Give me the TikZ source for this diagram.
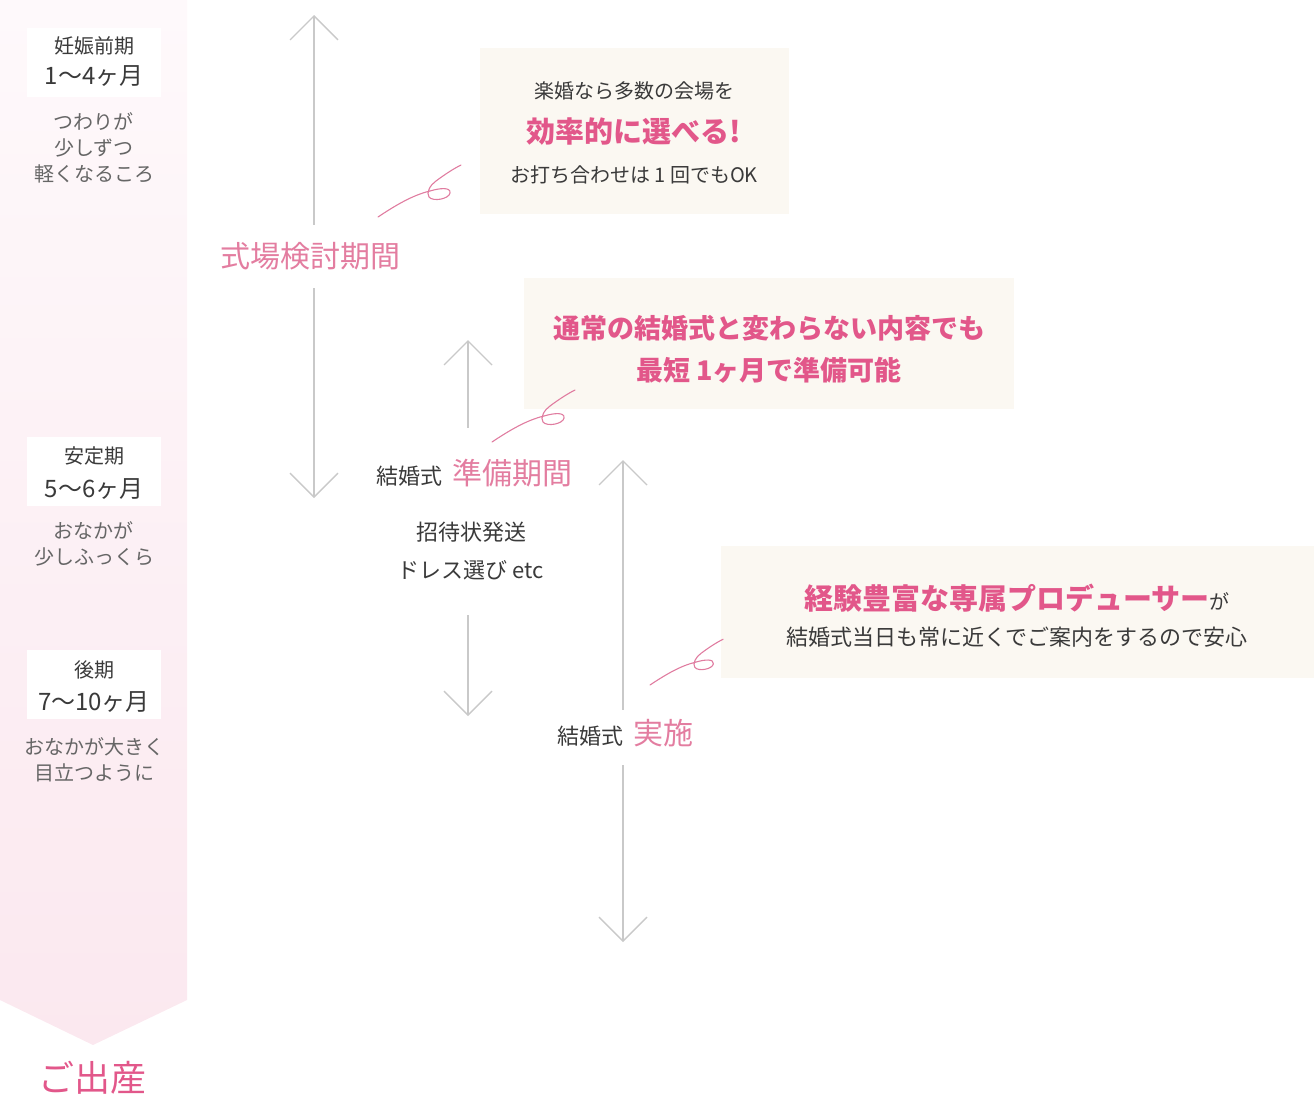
\documentclass[tikz,border=0pt]{standalone}
\usepackage{fontspec}
\setmainfont{Noto Sans CJK JP}
\usepackage{xcolor}
\usepackage{tikz}
\usetikzlibrary{arrows.meta, positioning}

\definecolor{bandtop}{HTML}{FEF9FB}
\definecolor{bandbot}{HTML}{FBE8EF}
\definecolor{cream}{HTML}{FBF8F2}
\definecolor{linegray}{HTML}{C9C9C9}
\definecolor{txtgray}{HTML}{3A3A3A}
\definecolor{subgray}{HTML}{666666}
\definecolor{pinkbold}{HTML}{E2578A}
\definecolor{pinklight}{HTML}{E37DA0}
\definecolor{swirlpink}{HTML}{E07CA0}

\newcommand{\fs}[1]{\fontsize{#1}{#1}\selectfont}

\begin{document}
\begin{tikzpicture}[x=1pt, y=-1pt,
	arr/.style={draw=linegray, line width=1.4pt, -{Straight Barb[length=24pt, width=48pt]}},
	whitebox/.style={fill=white, minimum width=134pt, minimum height=69pt, inner sep=0pt},
	callout/.style={fill=cream, inner sep=0pt},
	gapnode/.style={inner sep=0pt, minimum height=#1},
	swirl/.pic={\draw[swirlpink, line width=1.1pt, line cap=round]
		(0,0) .. controls (18,-12) and (35,-22) .. (52,-26)
		.. controls (62,-29) and (73,-30) .. (72,-24)
		.. controls (71,-18) and (55,-15) .. (51,-20)
		.. controls (48,-24) and (52,-32) .. (58,-36)
		.. controls (66,-42) and (75,-48) .. (83,-52);}]
	\useasboundingbox (0,0) rectangle (1314,1101);

	% Left band:
	\shade[top color=bandtop, bottom color=bandbot] (0,0) -- (187,0) -- (187,1000) -- (93,1045) -- (0,1000) -- cycle;
	\node[whitebox](B1) at (94,62){};
	\node[txtgray, font=\fs{20}](P1) at (94,46){妊娠前期};
	\node[txtgray, font=\fs{24}](M1) at (94,76){1〜4ヶ月};
	\node[subgray, font=\fontsize{20}{26}\selectfont, align=center](S1) at (94,148){つわりが\\少しずつ\\軽くなるころ};
	\node[whitebox](B2) at (94,471.5){};
	\node[txtgray, font=\fs{20}](P2) at (94,456){安定期};
	\node[txtgray, font=\fs{24}](M2) at (94,489){5〜6ヶ月};
	\node[subgray, font=\fontsize{20}{26}\selectfont, align=center](S2) at (94,544){おなかが\\少しふっくら};
	\node[whitebox](B3) at (94,684){};
	\node[txtgray, font=\fs{20}](P3) at (94,670){後期};
	\node[txtgray, font=\fs{24}](M3) at (94,702){7〜10ヶ月};
	\node[subgray, font=\fontsize{20}{26}\selectfont, align=center](S3) at (94,760){おなかが大きく\\目立つように};
	\node[pinkbold, font=\fs{36}](BIRTH) at (92,1078){ご出産};

	% Arrows and period labels:
	\coordinate (T1) at (314,15);
	\coordinate (D1) at (314,498);
	\node[gapnode=63pt, pinklight, font=\fs{30}](L1) at (310,256.5){式場検討期間};
	\draw[arr] (L1.north -| T1) -- (T1);
	\draw[arr] (L1.south -| T1) -- (D1);

	\coordinate (T2) at (468,340);
	\coordinate (D2) at (468,716);
	\node[gapnode=90pt](L2) at (474,473){{\fs{22}\color{txtgray}結婚式}\hspace{10pt}{\fs{30}\color{pinklight}準備期間}};
	\node[gapnode=128pt, txtgray, font=\fontsize{22}{38}\selectfont, align=center](N2) at (471,551){招待状発送\\ドレス選び etc};
	\draw[arr] (L2.north -| T2) -- (T2);
	\draw[arr] (N2.south -| T2) -- (D2);

	\coordinate (T3) at (623,460);
	\coordinate (D3) at (623,942);
	\node[gapnode=46pt](L3) at (625,733){{\fs{22}\color{txtgray}結婚式}\hspace{10pt}{\fs{30}\color{pinklight}実施}};
	\draw[arr] (L3.north -| T3) -- (T3);
	\draw[arr] ([yshift=-9pt]L3.south -| T3) -- (D3);

	% Callouts:
	\node[callout, minimum width=309pt, minimum height=166pt](C1) at (634.5,131){};
	\node[txtgray, font=\fs{20}](C1a) at (634,91){楽婚なら多数の会場を};
	\node[pinkbold, font=\bfseries\fs{29}](C1b) at (634,132){効率的に選べる!};
	\node[txtgray, font=\fs{20}](C1c) at (634,175){お打ち合わせは 1 回でもOK};

	\node[callout, minimum width=490pt, minimum height=131pt](C2) at (769,343.5){};
	\node[pinkbold, font=\bfseries\fs{27}](C2a) at (769,328){通常の結婚式と変わらない内容でも};
	\node[pinkbold, font=\bfseries\fs{27}](C2b) at (769,370){最短 1ヶ月で準備可能};

	\node[callout, minimum width=593pt, minimum height=132pt](C3) at (1017.5,612){};
	\node(C3a) at (1017,598){{\bfseries\fs{29}\color{pinkbold}経験豊富な専属プロデューサー}{\fs{20}\color{txtgray}が}};
	\node[txtgray, font=\fs{22}](C3b) at (1017,637){結婚式当日も常に近くでご案内をするので安心};

	\pic at (378,217) {swirl};
	\pic at (492,442) {swirl};
	\pic[scale=0.88] at (650,685) {swirl};
\end{tikzpicture}
\end{document}
